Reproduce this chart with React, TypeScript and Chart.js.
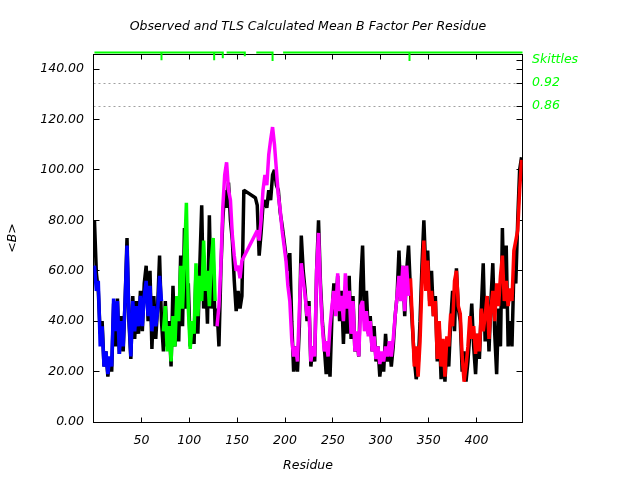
import React, { useEffect, useRef } from 'react';
import { Chart, registerables } from 'chart.js';

Chart.register(...registerables);

// ---------- data ----------
const chartTitle = 'Observed and TLS Calculated Mean B Factor Per Residue';
const xTitle = 'Residue';
const yTitle = '<B>';
const xTickValues = [50, 100, 150, 200, 250, 300, 350, 400];
const yTickValues = [0, 20, 40, 60, 80, 100, 120, 140];
const skittleCutoffs = [0.86, 0.92];
const skittleTickValues = [0.86, 0.92, 0.98];
const skittleTickLabels = ['0.86', '0.92', 'Skittles'];

const residueStep = 2;

// observed mean B, residues 1,3,5,...,447 (null = residue missing)
const observedStart = 1;
const observedB = [
  80, 59, 52, 35, 40, 22, 28, 18, 25, 20,
  47, 30, 49, 27, 42, 28, 48, 73, 40, 25,
  50, 33, 48, 35, 52, 36, 55, 62, 40, 60,
  29, 50, 33, 46, 66, 40,
  28, 48, 30, 40, 22, 54, 30, 46, 32, 66,
  38, 77, 45, 55, 30, 40, 31, 60, 35, 62,
  86, 45, 60, 39, 82, 45, 65, 38,
  45, 30, 60, 80, 92, 85, 95, 80, 72, 56,
  44, 52, 45, 50, 92, null, null, null, null, null, 89, 86, 66, 75, 86,
  88, 85, 92, 88, 98, 100, 94, 92, 83, 78,
  72, 66, 60, 67, 40, 20, 30, 20, 38, 74,
  60, 52, 40, 48, 22, 30, 24, 60, 80, 55,
  40, 30, 19, 28, 18, 42, 55, 46, 58, 40,
  52, 31, 52, 35, 58, 33, 50, 28, 34, 26,
  55, 70, 40, 52, 35, 42, 28, 38, 24, 30,
  18, 26, 20, 35, 24, 31, 22, 30, 42, 50,
  68, 48, 62, 42, 60, 70,
  52, 38, 25, 17, 22, 40, 62, 80, 60, 68,
  48, 60, 42, 50, 24, 38, 17, 30, 16, 30,
  22, 40, 52, 36, 61, 45, 40, 20, 28, 16,
  24, 35, 47, 30, 19, 35, 25, 45, 63, 32,
  50, 28, 48, 63, 35, 19, 45, 30, 77, 45,
  70, 30, 40, 30, 60, 55, 80, 100, 105,
];

// TLS calculated mean B, one array per TLS group
const tlsGroup1Start = 1;
const tlsGroup1B = [
  62, 52, 56, 30, 38, 22, 28, 19, 26, 22,
  49, 36, 48, 27, 40, 30, 48, 70, 42, 26,
  48, 36, 46, 38, 50, 38, 50, 56, 42, 54,
  36, 46, 38, 44, 58, 48,
];

const tlsGroup2Start = 73;
const tlsGroup2B = [
  36, 46, 28, 38, 24, 42, 30, 50, 40, 62,
  45, 65, 87, 45, 29, 40, 35, 63, 42, 58,
  48, 72, 52, 60, 46, 64, 73, 48,
];

const tlsGroup3Start = 129;
const tlsGroup3B = [
  38, 46, 62, 85, 98, 103, 92, 88, 74, 66,
  60, 62, 57, 64, null, null, null, null, null, null, null, 76, 72, 80, 92,
  98, 94, 106, 112, 117, 110, 100, 90, 84, 76,
  70, 64, 54, 48, 33, 26, 30, 24, 45, 63,
  56, 50, 42, 46, 24, 30, 26, 60, 75, 52,
  38, 28, 32, 26, 38, 46, 52, 42, 59, 44,
  50, 40, 59, 45, 52, 35, 48, 28, 36, 26,
  46, 48, 36, 44, 34, 40, 28, 34, 25, 30,
  23, 28, 24, 30, 26, 32, 26, 33, 42, 50,
  58, 48, 62, 44, 62, 50,
];

const tlsGroup4Start = 331;
const tlsGroup4B = [
  57, 40, 22, 30, 18, 32, 55, 72, 52, 64,
  46, 52, 42, 48, 25, 40, 22, 33, 18, 34,
  30, 43, 38, 56, 60, 46, 43, 26, 16, 22,
  30, 42, 33, 38, 27, 35, 28, 45, 36, 42,
  50, 33, 45, 52, 40, 55, 46, 58, 66, 48,
  56, 46, 53, 48, 68, 72, 76, 92, 104,
];

// skittle score along the chain (null = break)
const skittleResidues = [
  1, 71, 71, 71, 126, 126, 126, 135, 135, 135, 136, 137,
  139, 158, 158, 164,
  170, 187, 187, 192,
  198, 330, 330, 330, 448,
];
const skittleScores = [
  1, 1, 0.98, 1, 1, 0.98, 1, 1, 0.985, 1, 1, null,
  1, 1, 0.99, null,
  1, 1, 0.978, null,
  1, 1, 0.978, 1, 1,
];

// ---------- helpers ----------
const toPoints = (start: number, values: (number | null)[]) =>
  values.map((v, i) => ({ x: start + i * residueStep, y: v }));

const FONT = { family: '"DejaVu Sans", "Liberation Sans", sans-serif', size: 12.5, style: 'italic' as const, weight: 'normal' as const, lineHeight: 1.2 };

const crisp = (v: number) => Math.floor(v) + 0.5;

const framePlugin = {
  id: 'gnuplotFrame',
  beforeDatasetsDraw(chart: any) {
    const { ctx, chartArea: a, scales } = chart;
    const xs = scales.x, ys = scales.y, y2 = scales.y2;
    const l = crisp(a.left), r = crisp(a.right), t = crisp(a.top), b = crisp(a.bottom);
    ctx.save();
    ctx.lineWidth = 1;
    ctx.strokeStyle = '#a0a0a0';
    ctx.setLineDash([2, 3]);
    for (const v of skittleCutoffs) {
      const py = crisp(y2.getPixelForValue(v));
      ctx.beginPath();
      ctx.moveTo(l, py);
      ctx.lineTo(r, py);
      ctx.stroke();
    }
    ctx.setLineDash([]);
    ctx.strokeStyle = '#000';
    ctx.strokeRect(l, t, r - l, b - t);
    ctx.beginPath();
    for (const v of xTickValues) {
      const px = crisp(xs.getPixelForValue(v));
      ctx.moveTo(px, b); ctx.lineTo(px, b - 5);
      ctx.moveTo(px, t); ctx.lineTo(px, t + 5);
    }
    for (const v of yTickValues) {
      const py = crisp(ys.getPixelForValue(v));
      ctx.moveTo(l, py); ctx.lineTo(l + 6, py);
      ctx.moveTo(r, py); ctx.lineTo(r - 6, py);
    }
    for (const v of skittleTickValues) {
      const py = crisp(y2.getPixelForValue(v));
      ctx.moveTo(r, py); ctx.lineTo(r - 6, py);
    }
    ctx.stroke();
    ctx.restore();
  },
};

const lineStyle = {
  pointRadius: 0,
  tension: 0,
  borderJoinStyle: 'bevel' as const,
  borderCapStyle: 'butt' as const,
  fill: false,
  spanGaps: true,
};

export default function App() {
  const canvasRef = useRef<HTMLCanvasElement>(null);

  useEffect(() => {
    if (!canvasRef.current) return;
    const chart = new Chart(canvasRef.current, {
      type: 'line',
      data: {
        datasets: [
          {
            label: 'Skittles',
            data: skittleResidues.map((x, i) => ({ x, y: skittleScores[i] })),
            yAxisID: 'y2',
            borderColor: '#00ff00',
            borderWidth: 2,
            pointRadius: 0,
            tension: 0,
            spanGaps: false,
            clip: false,
            order: 0,
          } as any,
          { label: 'TLS 1', data: toPoints(tlsGroup1Start, tlsGroup1B), borderColor: '#0000ff', borderWidth: 3.5, order: 1, ...lineStyle },
          { label: 'TLS 2', data: toPoints(tlsGroup2Start, tlsGroup2B), borderColor: '#00ff00', borderWidth: 3.5, order: 1, ...lineStyle },
          { label: 'TLS 3', data: toPoints(tlsGroup3Start, tlsGroup3B), borderColor: '#ff00ff', borderWidth: 3.5, order: 1, ...lineStyle },
          { label: 'TLS 4', data: toPoints(tlsGroup4Start, tlsGroup4B), borderColor: '#ff0000', borderWidth: 3.5, order: 1, ...lineStyle },
          { label: 'Observed', data: toPoints(observedStart, observedB), borderColor: '#000000', borderWidth: 3.5, order: 2, ...lineStyle },
        ],
      },
      options: {
        animation: false,
        responsive: false,
        devicePixelRatio: 1,
        layout: { padding: 0 },
        plugins: {
          legend: { display: false },
          tooltip: { enabled: false },
          title: {
            display: true,
            text: chartTitle,
            color: '#000',
            font: FONT,
            fullSize: false,
            padding: { top: 19.5, bottom: 19.5 },
          },
        },
        scales: {
          x: {
            type: 'linear',
            position: 'bottom',
            min: 0,
            max: 448,
            afterBuildTicks: (s: any) => { s.ticks = xTickValues.map((value) => ({ value })); },
            afterFit: (s: any) => { s.height = 58; },
            grid: { display: false, drawTicks: false },
            border: { display: false },
            ticks: { padding: 11, color: '#000', font: FONT, maxRotation: 0, autoSkip: false, callback: (v: any) => String(v) },
            title: { display: true, text: xTitle, color: '#000', font: FONT, padding: { top: 0, bottom: 6.5 } },
          },
          y: {
            type: 'linear',
            position: 'left',
            min: 0,
            max: 146,
            afterBuildTicks: (s: any) => { s.ticks = yTickValues.map((value) => ({ value })); },
            afterFit: (s: any) => { s.width = 93.5; },
            grid: { display: false, drawTicks: false },
            border: { display: false },
            ticks: { padding: 9.5, color: '#000', font: FONT, autoSkip: false, callback: (v: any) => Number(v).toFixed(2) },
            title: { display: true, text: yTitle, color: '#000', font: FONT, padding: { top: 5.5, bottom: 0 } },
          },
          y2: {
            type: 'linear',
            position: 'right',
            min: 0.036,
            max: 0.996,
            afterBuildTicks: (s: any) => { s.ticks = skittleTickValues.map((value) => ({ value })); },
            afterFit: (s: any) => { s.width = 117.5; },
            grid: { display: false, drawTicks: false },
            border: { display: false },
            ticks: {
              padding: 9.5,
              color: '#00ff00',
              font: FONT,
              autoSkip: false,
              callback: (v: any) => {
                const i = skittleTickValues.indexOf(Number(v));
                return i >= 0 ? skittleTickLabels[i] : '';
              },
            },
          },
        },
      },
      plugins: [framePlugin],
    } as any);
    return () => chart.destroy();
  }, []);

  return (
    <div style={{ position: 'fixed', left: 0, top: 0, width: 640, height: 480, background: '#fff' }}>
      <canvas ref={canvasRef} width={640} height={480} style={{ display: 'block', width: 640, height: 480 }} />
    </div>
  );
}
